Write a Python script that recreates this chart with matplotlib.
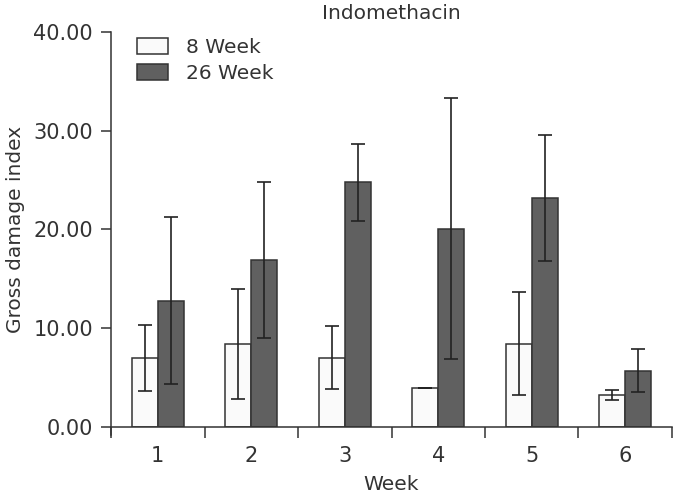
import numpy as np
import matplotlib
matplotlib.use("Agg")
import matplotlib.pyplot as plt
from matplotlib.ticker import FormatStrFormatter, FixedLocator

# values
weeks = ["1", "2", "3", "4", "5", "6"]
week8_mean = [7.0, 8.4, 7.0, 4.0, 8.45, 3.2]
week8_err = [3.35, 5.6, 3.2, 0.0, 5.25, 0.5]
week26_mean = [12.8, 16.9, 24.8, 20.1, 23.2, 5.7]
week26_err = [8.45, 7.9, 3.9, 13.2, 6.35, 2.2]

plt.rcParams['font.family'] = 'DejaVu Sans'

fig = plt.figure(figsize=(6.77, 4.96), dpi=100)
ax = fig.add_axes([0.164, 0.1391, 0.8286, 0.7964])

x = np.arange(1, len(weeks) + 1)
w = 0.28
err_kw = dict(elinewidth=1.2, capthick=1.2, ecolor='#222222', capsize=5)

ax.bar(x - w / 2, week8_mean, w, color='#fafafa', edgecolor='#333333', lw=1.1,
       yerr=week8_err, error_kw=err_kw, label='8 Week', zorder=2)
ax.bar(x + w / 2, week26_mean, w, color='#606060', edgecolor='#333333', lw=1.1,
       yerr=week26_err, error_kw=err_kw, label='26 Week', zorder=2)

ax.set_xlim(0.5, 6.5)
ax.set_ylim(0, 40)

# boundary ticks without labels, labels at category centres
ax.xaxis.set_major_locator(FixedLocator(np.arange(0.5, 7.0, 1.0)))
ax.xaxis.set_minor_locator(FixedLocator(x))
ax.set_xticklabels([])
ax.set_xticklabels(weeks, minor=True)
ax.tick_params(axis='x', which='major', length=8, width=1.1, color='#333333')
ax.tick_params(axis='x', which='minor', length=0, pad=14, labelsize=15, labelcolor='#333333')

ax.set_yticks([0, 10, 20, 30, 40])
ax.yaxis.set_major_formatter(FormatStrFormatter('%.2f'))
ax.tick_params(axis='y', length=7, width=1.1, color='#333333', pad=6, labelsize=15, labelcolor='#333333')

for side in ['top', 'right']:
    ax.spines[side].set_visible(False)
ax.spines['left'].set_linewidth(1.1)
ax.spines['bottom'].set_linewidth(1.1)
ax.spines['left'].set_color('#333333')
ax.spines['bottom'].set_color('#333333')
ax.spines['left'].set_bounds(-0.8, 40)

ax.set_title("Indomethacin", fontsize=14.5, color='#333333', pad=9)
ax.set_ylabel("Gross damage index", fontsize=14.5, color='#333333', labelpad=6)
ax.set_xlabel("Week", fontsize=14.5, color='#333333', labelpad=6)

ax.legend(loc='upper left', bbox_to_anchor=(0.046, 0.985), frameon=False,
          fontsize=14.5, handlelength=1.55, handleheight=0.85,
          handletextpad=0.9, labelspacing=0.35, borderpad=0, borderaxespad=0,
          labelcolor='#333333')

fig.savefig('out.png', dpi=100)
